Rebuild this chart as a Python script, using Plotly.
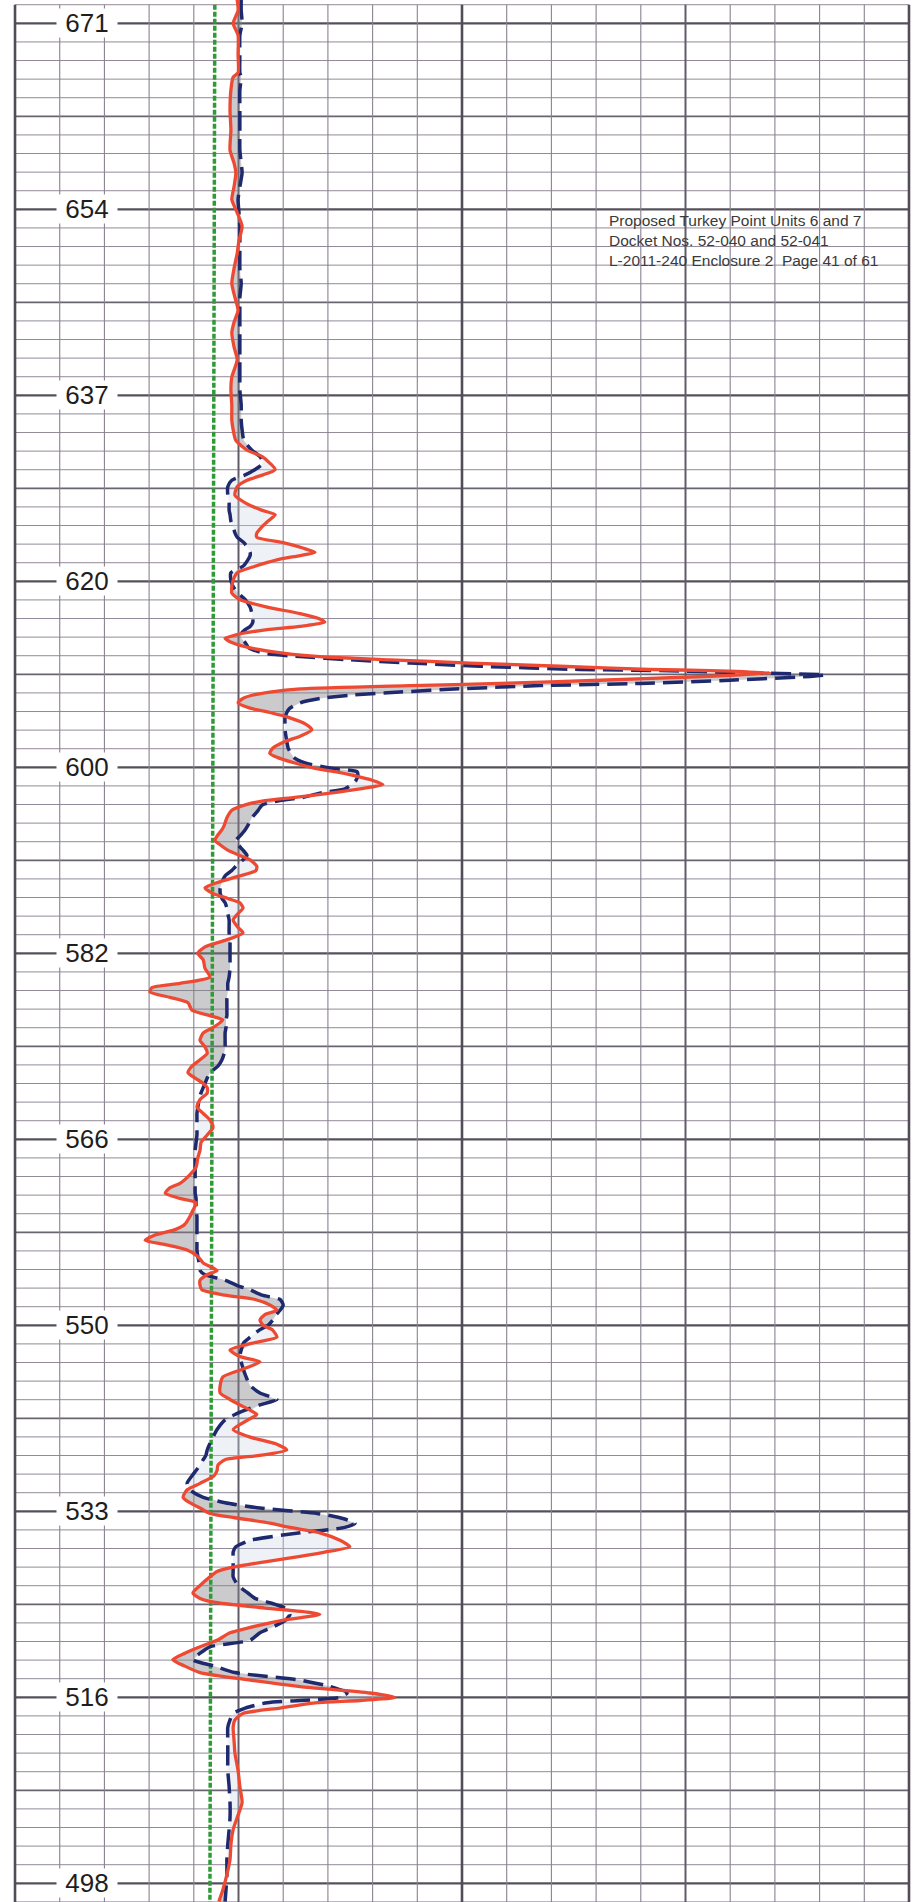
import numpy as np
import plotly.graph_objects as go

depth_ft = [
    673.2, 672.2, 671.0, 669.9, 668.1, 666.4, 666.0, 664.8, 662.9, 661.1,
    659.2, 658.0, 657.1, 655.8, 654.6, 653.4, 652.1, 650.8, 649.6, 648.2,
    646.8, 645.5, 644.3, 643.2, 642.2, 640.9, 639.7, 638.1, 636.9, 635.5,
    634.1,
    633.2, 632.2, 631.3, 630.7, 630.1, 629.5, 629.0, 628.5, 627.9, 627.1,
    626.4, 625.7, 625.3, 624.7, 624.2, 623.6, 623.2, 622.7, 622.2, 621.8,
    621.5, 621.1, 620.5, 619.9, 619.2, 618.6, 618.0, 617.4, 616.7, 616.1,
    615.6, 615.3, 614.9, 614.6, 614.2, 613.8, 613.4, 612.9,
    612.4, 612.1, 611.8, 611.5, 611.2, 610.9, 610.8, 610.6, 610.4, 610.2,
    609.9, 609.6, 609.4, 609.1, 608.8, 608.5, 608.2, 607.8,
    607.3, 606.9, 606.4, 605.8, 605.3, 604.7, 604.2, 603.6, 603.1, 602.7,
    602.2, 601.7, 601.4, 601.0, 600.6, 600.2, 599.8, 599.4, 599.0, 598.7,
    598.3, 597.8, 597.1, 596.4, 596.0, 595.4, 595.0, 594.6, 594.1, 593.6,
    593.2, 592.6, 592.2, 591.7, 591.1, 590.6, 590.1, 589.6, 589.2, 588.7,
    588.2, 587.6, 586.9, 586.4, 585.7, 585.1, 584.5, 583.9, 583.1, 582.3,
    581.7, 581.3, 580.9, 580.4, 579.9, 579.2, 578.7, 578.3, 577.6, 577.1,
    576.4, 575.8, 575.2, 574.6, 574.0, 573.4, 572.9, 572.4, 572.0, 571.5,
    570.9, 570.2, 569.6, 569.0, 568.3, 567.6, 566.9, 566.2, 565.5, 564.6,
    563.9, 563.1, 562.7, 562.2, 561.7, 561.3, 560.6, 560.0, 559.3, 558.8,
    558.3, 557.8, 557.4, 556.9, 556.3, 555.7, 555.0, 554.6, 554.1, 553.6,
    553.2, 552.7, 552.3, 551.8, 551.3, 550.9, 550.4, 549.9, 549.5, 548.8,
    548.3, 547.6, 547.0, 546.5, 545.9, 545.1, 544.3, 543.6, 543.0, 542.5,
    542.0, 541.6, 541.1, 540.2, 539.5, 538.9, 538.3, 537.8, 537.4, 536.9,
    536.4, 535.9, 535.2, 534.6, 533.9, 533.4, 532.9, 532.4, 532.0, 531.5,
    531.1, 530.6, 529.9, 529.3, 528.8, 528.4, 527.9, 527.4, 527.0, 526.5,
    525.7, 525.0, 524.5, 524.1, 523.6, 523.2, 523.0, 522.5, 521.8, 521.3,
    520.6, 520.0, 519.4, 518.8, 518.2, 517.6, 516.9, 516.3, 515.7, 515.3,
    515.0, 514.8, 514.3, 513.8, 513.2, 512.5, 511.3, 510.1, 508.5, 507.0,
    505.5, 504.1, 503.0, 501.6, 500.2, 498.8, 497.4, 496.3,
]

curve_red = [
    49.7, 49.9, 48.8, 49.9, 49.9, 49.9, 48.8, 48.3, 48.1, 48.3,
    48.1, 49.0, 49.4, 49.0, 48.5, 49.7, 50.8, 50.1, 49.7, 49.0,
    48.5, 49.2, 49.9, 49.0, 48.5, 49.0, 49.7, 48.5, 48.3, 48.5,
    48.5,
    48.8, 49.4, 51.9, 55.3, 57.0, 58.2, 55.5, 51.9, 49.7, 49.2,
    51.5, 55.3, 58.2, 56.6, 55.3, 54.1, 54.1, 60.0, 64.4, 67.1,
    63.8, 58.6, 53.7, 49.7, 48.8, 48.5, 48.5, 50.3, 56.4, 63.8,
    68.2, 69.3, 63.8, 56.4, 50.3, 47.0, 48.5, 52.6,
    60.4, 68.2, 83.9, 101.8, 121.9, 142.0, 155.5, 168.9, 162.2, 151.0,
    130.9, 108.5, 88.4, 63.8, 57.0, 53.0, 51.0, 49.9,
    52.6, 57.0, 61.5, 65.1, 66.4, 63.8, 60.4, 57.7, 57.0, 58.8,
    62.6, 67.1, 71.6, 76.1, 79.9, 82.3, 77.2, 70.5, 62.6, 55.9,
    51.5, 48.5, 47.4, 46.8, 46.3, 45.2, 44.7, 45.9, 47.6, 50.3,
    52.6, 54.1, 53.9, 50.3, 45.4, 42.5, 44.1, 47.6, 50.3, 51.0,
    49.9, 48.8, 49.9, 51.0, 47.0, 42.5, 40.9, 42.1, 42.5, 43.6,
    36.9, 30.6, 30.2, 34.7, 38.7, 39.6, 43.6, 46.5, 44.3, 42.1,
    41.4, 42.5, 43.0, 41.4, 39.6, 38.7, 40.3, 42.1, 43.0, 43.0,
    41.4, 40.7, 42.1, 43.6, 44.3, 43.0, 41.6, 41.4, 40.9, 40.5,
    39.1, 36.9, 34.7, 33.6, 36.9, 40.5, 39.8, 39.1, 38.0, 35.8,
    31.3, 29.1, 33.6, 38.5, 40.9, 42.1, 45.2, 43.0, 41.4, 41.4,
    41.8, 47.0, 53.7, 57.0, 58.6, 55.9, 54.8, 55.5, 57.5, 58.6,
    53.7, 48.1, 50.3, 54.8, 51.5, 46.5, 45.9, 45.9, 48.1, 50.3,
    52.6, 54.1, 52.1, 48.8, 52.6, 58.2, 60.8, 54.8, 47.0, 45.4,
    45.2, 44.5, 41.4, 38.5, 37.6, 39.1, 41.4, 43.6, 49.2, 57.0,
    61.5, 68.2, 72.7, 74.9, 69.3, 63.8, 55.9, 48.8, 45.2, 43.6,
    41.4, 39.8, 41.4, 45.2, 55.9, 66.0, 68.2, 60.4, 52.6, 48.1,
    45.2, 41.4, 38.0, 35.3, 38.0, 41.4, 52.6, 63.8, 79.4, 85.0,
    77.2, 67.6, 59.3, 51.0, 49.2, 48.8, 49.0, 49.2, 49.9, 50.3,
    50.8, 49.7, 48.8, 48.3, 48.1, 47.4, 46.5, 45.6,
]

curve_blue = [
    50.6, 50.6, 50.8, 50.3, 50.3, 50.3, 50.6, 50.3, 50.3, 50.3,
    50.3, 50.6, 50.8, 50.3, 49.9, 50.1, 50.3, 50.3, 50.3, 50.3,
    50.6, 50.3, 50.3, 50.3, 50.3, 50.3, 50.3, 50.3, 50.3, 50.6,
    50.6,
    50.8, 51.2, 53.0, 54.8, 55.5, 53.7, 51.5, 48.5, 47.6, 47.6,
    47.9, 47.9, 48.1, 48.3, 48.8, 49.2, 49.7, 51.2, 52.1, 52.6,
    52.6, 52.1, 51.0, 48.3, 48.3, 48.8, 49.9, 51.5, 52.6, 53.0,
    53.2, 53.2, 52.6, 51.5, 50.6, 50.6, 51.5, 52.3,
    55.9, 63.8, 74.9, 88.4, 104.0, 126.4, 144.3, 162.2, 181.2, 175.6,
    159.9, 139.8, 117.4, 99.5, 86.1, 74.9, 68.2, 63.8,
    61.5, 60.8, 60.4, 60.4, 60.4, 60.6, 60.8, 61.1, 61.7, 62.4,
    64.9, 71.1, 76.5, 76.7, 76.3, 75.4, 73.8, 68.2, 64.4, 59.3,
    55.3, 54.4, 53.0, 52.1, 51.5, 50.3, 49.4, 49.9, 51.0, 51.9,
    51.0, 49.4, 48.5, 47.0, 46.3, 45.9, 45.9, 46.3, 47.0, 47.4,
    47.6, 47.9, 47.9, 47.9, 48.1, 48.1, 48.1, 48.1, 48.1, 47.9,
    47.6, 47.6, 47.6, 47.4, 47.4, 47.4, 47.4, 47.2, 47.2, 47.0,
    47.0, 47.0, 46.8, 46.3, 45.4, 43.6, 43.0, 42.5, 42.1, 41.6,
    41.2, 40.9, 40.7, 40.7, 40.7, 40.7, 40.5, 40.3, 40.3, 40.3,
    40.3, 40.3, 40.3, 40.3, 40.5, 40.5, 40.5, 40.7, 40.7, 40.7,
    40.7, 40.7, 40.7, 40.7, 40.9, 41.2, 41.4, 42.5, 47.0, 49.7,
    52.6, 55.3, 59.3, 60.0, 59.3, 58.4, 57.7, 56.6, 54.8, 52.6,
    51.2, 50.6, 50.3, 50.6, 51.0, 51.7, 52.6, 54.8, 58.6, 54.8,
    51.5, 49.2, 47.0, 45.2, 44.3, 43.6, 43.0, 42.7, 42.1, 41.4,
    40.5, 39.6, 38.5, 39.1, 42.1, 47.0, 54.8, 67.6, 72.7, 76.1,
    73.8, 63.8, 52.6, 49.4, 48.8, 48.8, 48.8, 48.8, 48.8, 48.8,
    49.9, 52.1, 53.7, 57.0, 60.4, 61.3, 61.5, 60.6, 57.5, 54.8,
    52.6, 43.6, 41.4, 39.8, 44.7, 49.2, 63.8, 70.5, 74.3, 72.7,
    63.8, 56.4, 51.5, 48.8, 48.1, 47.6, 47.6, 47.6, 47.6, 47.9,
    48.1, 48.1, 47.9, 47.6, 47.4, 47.4, 47.2, 47.0,
]

assert len(depth_ft) == len(curve_red) == len(curve_blue)

depth_labels = ["671", "654", "637", "620", "600", "582", "566", "550", "533", "516", "498"]
label_top_depth = 671.0
label_spacing = 17.3
minor_per_label = 10
cutoff_line = [44.7, 43.6]          # green reference line (top, bottom)
n_columns = 20
column_width = 10
note_lines = [
    "Proposed Turkey Point Units 6 and 7",
    "Docket Nos. 52-040 and 52-041",
    "L-2011-240 Enclosure 2  Page 41 of 61",
]

# ---------------- view ----------------
x_range = [-3.36, 202.24]
y_range = [496.26, 673.17]
grid_top = label_top_depth + label_spacing / minor_per_label

red = np.array(curve_red)
blue = np.array(curve_blue)
upper = np.maximum(red, blue)

fig = go.Figure()

# shading: grey where blue lies right of red, faint where red lies right of blue
fig.add_trace(go.Scatter(x=red, y=depth_ft, mode="lines",
                         line=dict(width=0, color="rgba(0,0,0,0)"), hoverinfo="skip"))
fig.add_trace(go.Scatter(x=upper, y=depth_ft, mode="lines", fill="tonextx",
                         fillcolor="rgba(130,130,135,0.42)",
                         line=dict(width=0, color="rgba(0,0,0,0)"), hoverinfo="skip"))
fig.add_trace(go.Scatter(x=blue, y=depth_ft, mode="lines",
                         line=dict(width=0, color="rgba(0,0,0,0)"), hoverinfo="skip"))
fig.add_trace(go.Scatter(x=upper, y=depth_ft, mode="lines", fill="tonextx",
                         fillcolor="rgba(205,216,230,0.35)",
                         line=dict(width=0, color="rgba(0,0,0,0)"), hoverinfo="skip"))

# green reference line
fig.add_trace(go.Scatter(x=cutoff_line, y=[grid_top, y_range[0]], mode="lines",
                         line=dict(color="#2f9a36", width=3.5, dash="5px,2px"),
                         hoverinfo="skip"))

# blue dashed curve
fig.add_trace(go.Scatter(x=blue, y=depth_ft, mode="lines",
                         line=dict(color="#1f2a6e", width=3.5, dash="20px,8px",
                                   shape="spline", smoothing=0.6),
                         hoverinfo="skip"))
# red solid curve
fig.add_trace(go.Scatter(x=red, y=depth_ft, mode="lines",
                         line=dict(color="#ee4a33", width=3.3,
                                   shape="spline", smoothing=0.6),
                         hoverinfo="skip"))

# ---------------- grid ----------------
shapes = []
step = label_spacing / minor_per_label
k = -1
while True:
    yv = label_top_depth - k * step
    if yv < y_range[0] - 0.01:
        break
    if k % 10 == 0:
        col, w = "#55505a", 2.2
    elif k % 5 == 0:
        col, w = "#6a6370", 1.7
    else:
        col, w = "#928a98", 1.0
    shapes.append(dict(type="line", xref="x", yref="y", x0=0, x1=n_columns * column_width,
                       y0=yv, y1=yv, line=dict(color=col, width=w), layer="below"))
    k += 1

for c in range(n_columns + 1):
    xv = c * column_width
    if c % 10 == 0:
        col, w = "#524c57", 2.6
    elif c % 5 == 0:
        col, w = "#625b68", 2.0
    else:
        col, w = "#8a8290", 1.1
    shapes.append(dict(type="line", xref="x", yref="y", x0=xv, x1=xv,
                       y0=grid_top, y1=y_range[0], line=dict(color=col, width=w),
                       layer="below"))

# ---------------- labels ----------------
annotations = []
for i, txt in enumerate(depth_labels):
    annotations.append(dict(
        x=16.2, y=label_top_depth - i * label_spacing, xref="x", yref="y",
        text=txt, showarrow=False, xanchor="center", yanchor="middle",
        font=dict(family="Liberation Sans, Arial, sans-serif", size=26, color="#1e1e1e"),
        bgcolor="white", width=60, height=28, borderpad=0,
    ))

annotations.append(dict(
    x=132.4, y=650.84, xref="x", yref="y",
    text="<br>".join(note_lines), showarrow=False, xanchor="left", yanchor="middle",
    align="left",
    font=dict(family="Liberation Sans, Arial, sans-serif", size=15.5, color="#3a3a3a"),
))

fig.update_layout(
    width=919, height=1902, autosize=False,
    margin=dict(l=0, r=0, t=0, b=0, pad=0),
    paper_bgcolor="white", plot_bgcolor="white",
    showlegend=False,
    shapes=shapes, annotations=annotations,
    xaxis=dict(range=x_range, visible=False, showgrid=False, zeroline=False, fixedrange=True),
    yaxis=dict(range=y_range, visible=False, showgrid=False, zeroline=False, fixedrange=True),
)

fig.write_html("out.html",
               config={"displayModeBar": False, "staticPlot": True},
               post_script="document.body.style.margin='0';document.body.style.overflow='hidden';")
